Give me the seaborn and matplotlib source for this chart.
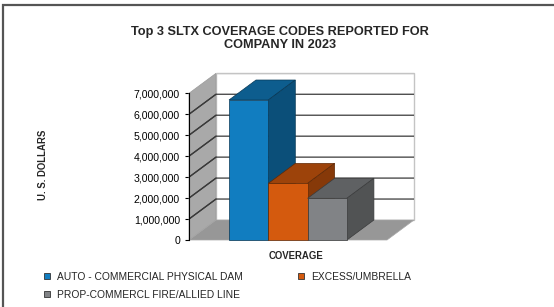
import numpy as np
import pandas as pd
import matplotlib
matplotlib.use('Agg')
import matplotlib.pyplot as plt
import seaborn as sns
from matplotlib.patches import Polygon, Rectangle
from matplotlib.lines import Line2D
from matplotlib.ticker import FuncFormatter
from matplotlib.colors import to_rgb

# chart data
coverage = ['AUTO - COMMERCIAL PHYSICAL DAM', 'EXCESS/UMBRELLA', 'PROP-COMMERCL FIRE/ALLIED LINE']
dollars = [6680000, 2700000, 1990000]
y_ticks = [0, 1000000, 2000000, 3000000, 4000000, 5000000, 6000000, 7000000]
title = 'Top 3 SLTX COVERAGE CODES REPORTED FOR\nCOMPANY IN 2023'

colors = ['#117dc0', '#d45a0e', '#818386']

sns.set_style('white')
plt.rcParams['font.family'] = ['Liberation Sans', 'DejaVu Sans']

df = pd.DataFrame({'coverage': coverage, 'dollars': dollars})

W, H = 554, 307
fig = plt.figure(figsize=(W / 100, H / 100), dpi=100)

# pixel geometry of the pseudo-3D plot box
px_left, px_right, px_bottom, px_top = 189, 414, 240, 73.3
ax = fig.add_axes([px_left / W, 1 - px_bottom / H, (px_right - px_left) / W, (px_bottom - px_top) / H])

ymax = y_ticks[-1]
px_per_unit = 39.3                      # one bar width in pixels
px_per_dollar = (px_bottom - 93.3) / ymax
dx = 27 / px_per_unit                    # depth offset, x data units
dy = 20 / px_per_dollar                  # depth offset, y data units
xl = -1.518
xr = 3.52

def shade(c, f):
    r, g, b = to_rgb(c)
    return (r * f, g * f, b * f)

# back wall, side wall, floor
ax.add_patch(Polygon([(xl + dx, dy), (xr + dx, dy), (xr + dx, ymax + dy), (xl + dx, ymax + dy)],
                     closed=True, facecolor='white', edgecolor='#c4c4c4', lw=1, zorder=0))
for v in y_ticks[1:-1]:
    ax.plot([xl, xl + dx, xr + dx], [v, v + dy, v + dy], color='#3a3a3a', lw=0.9, zorder=1.5)
ax.add_patch(Polygon([(xl, 0), (xl + dx, dy), (xl + dx, ymax + dy), (xl, ymax)],
                     closed=True, facecolor='#a9a9a9', edgecolor='#9a9a9a', lw=0.5, zorder=1))
ax.add_patch(Polygon([(xl, 0), (xr, 0), (xr + dx, dy), (xl + dx, dy)],
                     closed=True, facecolor='#979797', edgecolor='#a8a8a8', lw=0.5, zorder=1))
for v in y_ticks[1:-1]:
    ax.plot([xl, xl + dx], [v, v + dy], color='#3a3a3a', lw=0.9, zorder=1.6)
ax.plot([xl + dx, xr + dx], [ymax + dy, ymax + dy], color='#c4c4c4', lw=1, zorder=1.6)

# front faces of the bars
sns.barplot(data=df, x='coverage', y='dollars', hue='coverage', palette=colors,
            order=coverage, hue_order=coverage, width=1, saturation=1, legend=False, ax=ax,
            edgecolor='#333333', linewidth=0.5)

for i, bar in enumerate(ax.patches[-len(coverage):]):
    c = colors[i]
    x0 = bar.get_x()
    x1 = x0 + bar.get_width()
    v = bar.get_height()
    bar.set_zorder(4 + 2 * i)
    bar.set_edgecolor(shade(c, 0.45))
    ax.add_patch(Polygon([(x0, v), (x1, v), (x1 + dx, v + dy), (x0 + dx, v + dy)], closed=True,
                         facecolor=shade(c, 0.74), edgecolor=shade(c, 0.45), lw=0.5, zorder=3 + 2 * i))
    ax.add_patch(Polygon([(x1, 0), (x1 + dx, dy), (x1 + dx, v + dy), (x1, v)], closed=True,
                         facecolor=shade(c, 0.63), edgecolor=shade(c, 0.45), lw=0.5, zorder=3 + 2 * i))

ax.set_xlim(xl, xr + dx)
ax.set_ylim(0, ymax + dy)
ax.set_xticks([])
ax.set_yticks(y_ticks)
ax.yaxis.set_major_formatter(FuncFormatter(lambda v, _: f'{int(v):,}'))
ax.tick_params(axis='y', left=True, length=3, width=0.8, pad=3.5, labelsize=7.6, colors='black')
for s in ['top', 'right', 'bottom']:
    ax.spines[s].set_visible(False)
ax.spines['left'].set_bounds(0, ymax)
ax.spines['left'].set_color('black')
ax.spines['left'].set_linewidth(0.8)
ax.set_xlabel('')
ax.set_ylabel('')
ax.patch.set_alpha(0)
for a in ax.patches:
    a.set_clip_on(False)

fig.text(279.7 / W, 1 - 38.5 / H, title, ha='center', va='center', fontsize=9.2,
         fontweight='bold', linespacing=1.2)
fig.text(42.7 / W, 1 - 165 / H, 'U. S. DOLLARS', rotation=90, ha='center', va='center',
         fontsize=6.9, fontweight='bold')
fig.text(296 / W, 1 - 256 / H, 'COVERAGE', ha='center', va='center', fontsize=6.9, fontweight='bold')

# legend: column 1 holds items 0 and 2, column 2 holds item 1
order = [0, 2, 1]
handles = [Line2D([], [], ls='', marker='s', markersize=4.2, markerfacecolor=colors[i],
                  markeredgecolor='#333333', markeredgewidth=0.6) for i in order]
fig.legend(handles, [coverage[i] for i in order], ncol=2, loc='upper left',
           bbox_to_anchor=(43 / W, 1 - 272 / H), frameon=False, fontsize=7.4,
           handlelength=0.8, handletextpad=0.56, columnspacing=5.26, labelspacing=0.75,
           borderpad=0, borderaxespad=0)

# outer chart border (cut off at right and bottom)
fig.patches.append(Rectangle((2.7 / W, -0.05), 1.1, 1.05 - 4.7 / H, transform=fig.transFigure,
                             fill=False, edgecolor='#555555', lw=1.6, zorder=10))

fig.savefig('out.png', dpi=100)
